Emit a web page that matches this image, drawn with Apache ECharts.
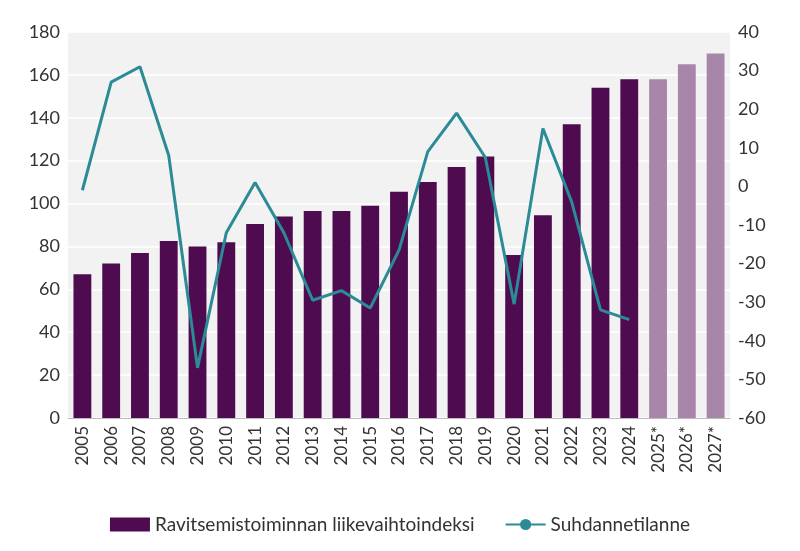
<!DOCTYPE html>
<html><head><meta charset="utf-8">
<script src="https://cdn.jsdelivr.net/npm/echarts@6/dist/echarts.min.js"></script>
<style>html,body{margin:0;background:#fff}#c{width:800px;height:551px}</style>
</head><body><div id="c"></div>
<script>
const categories=['2005','2006','2007','2008','2009','2010','2011','2012','2013','2014','2015','2016','2017','2018','2019','2020','2021','2022','2023','2024','2025*','2026*','2027*'];
const indexValues=[67,72,77,82.5,80,82,90.5,94,96.5,96.5,99,105.5,110,117,122,76,94.5,137,154,158,158,165,170];
const forecastFrom=20;
const cycleValues=[-1,27,31,8,-47,-12,1,-12,-29.5,-27,-31.5,-16.5,9,19,7.5,-30.5,15,-4,-32,-34.5];
const barData=indexValues.map((v,i)=>({value:v,itemStyle:{color:i>=forecastFrom?'#a886a9':'#4f0b50'}}));
const font='Lato';
const chart=echarts.init(document.getElementById('c'));
chart.setOption({
  textStyle:{fontFamily:font},
  grid:{left:68,right:70,top:32,bottom:133,backgroundColor:'#f2f2f2',show:true,borderWidth:0},
  legend:{bottom:12,left:'center',itemGap:30,itemWidth:40,itemHeight:14,textStyle:{fontSize:19,color:'#333',fontFamily:font},
    data:[{name:'Ravitsemistoiminnan liikevaihtoindeksi',icon:'rect'},{name:'Suhdannetilanne'}]},
  xAxis:{type:'category',data:categories,axisTick:{show:false},axisLine:{lineStyle:{color:'#bbb'}},
    axisLabel:{rotate:90,fontSize:17,color:'#333',interval:0}},
  yAxis:[
    {type:'value',min:0,max:180,interval:20,axisLabel:{fontSize:18,color:'#333'},splitLine:{lineStyle:{color:'#fff',width:1.5}}},
    {type:'value',min:-60,max:40,interval:10,axisLabel:{fontSize:18,color:'#333'},splitLine:{show:false}}
  ],
  series:[
    {name:'Ravitsemistoiminnan liikevaihtoindeksi',type:'bar',data:barData,barWidth:'62%',itemStyle:{color:'#4f0b50'}},
    {name:'Suhdannetilanne',type:'line',yAxisIndex:1,data:cycleValues,symbol:'none',lineStyle:{color:'#2b8b96',width:3},itemStyle:{color:'#2b8b96'}}
  ]
});
</script></body></html>
